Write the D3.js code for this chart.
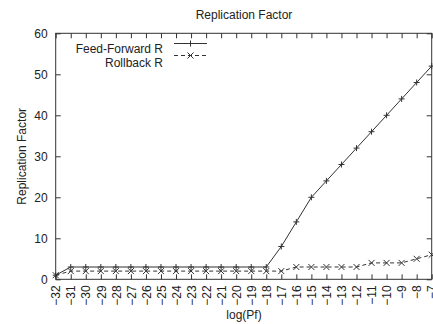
<!DOCTYPE html>
<html>
<head>
<meta charset="utf-8">
<script src="https://cdn.jsdelivr.net/npm/d3@7"></script>
<style>
  body { margin: 0; background: #fff; }
  text { font-family: "Liberation Sans", Arial, sans-serif; fill: #222; }
</style>
</head>
<body>
<svg id="chart" width="433" height="324"></svg>
<script>
// log(Pf) values on the x axis
const logPf = [-32, -31, -30, -29, -28, -27, -26, -25, -24, -23, -22, -21, -20, -19, -18, -17, -16, -15, -14, -13, -12, -11, -10, -9, -8, -7];
const feedForward = [1, 3, 3, 3, 3, 3, 3, 3, 3, 3, 3, 3, 3, 3, 3, 8, 14, 20, 24, 28, 32, 36, 40, 44, 48, 52];
const rollback = [1, 2, 2, 2, 2, 2, 2, 2, 2, 2, 2, 2, 2, 2, 2, 2, 3, 3, 3, 3, 3, 4, 4, 4, 5, 6];
const yTicks = [0, 10, 20, 30, 40, 50, 60];

const plotLeft = 55.7, plotRight = 431.7, plotTop = 33.3, plotBottom = 279.3;
const svg = d3.select("#chart");

const x = d3.scaleLinear().domain([-32, -7]).range([plotLeft, plotRight]);
const y = d3.scaleLinear().domain([0, 60]).range([plotBottom, plotTop]);
const ink = "#333";

// frame
svg.append("rect")
  .attr("x", plotLeft).attr("y", plotTop)
  .attr("width", plotRight - plotLeft).attr("height", plotBottom - plotTop)
  .attr("fill", "none").attr("stroke", ink).attr("stroke-width", 1);

// bottom axis with rotated labels
const xAxis = svg.append("g")
  .attr("transform", "translate(0," + plotBottom + ")")
  .call(d3.axisBottom(x).tickValues(logPf).tickFormat(d3.format("d")).tickSizeInner(-5).tickSizeOuter(0));
xAxis.select(".domain").remove();
xAxis.selectAll("line").attr("stroke", ink);
xAxis.selectAll("text")
  .attr("transform", "rotate(-90)")
  .attr("x", -6).attr("y", 0).attr("dy", "0.35em")
  .style("text-anchor", "end")
  .style("font-size", "12px")
  .style("font-family", "Liberation Sans, Arial, sans-serif")
  .attr("fill", "#222");

// mirrored top ticks
const xTop = svg.append("g")
  .attr("transform", "translate(0," + plotTop + ")")
  .call(d3.axisTop(x).tickValues(logPf).tickFormat("").tickSizeInner(-5).tickSizeOuter(0));
xTop.select(".domain").remove();
xTop.selectAll("line").attr("stroke", ink);

// left axis
const yAxis = svg.append("g")
  .attr("transform", "translate(" + plotLeft + ",0)")
  .call(d3.axisLeft(y).tickValues(yTicks).tickSizeInner(-5).tickSizeOuter(0).tickPadding(8));
yAxis.select(".domain").remove();
yAxis.selectAll("line").attr("stroke", ink);
yAxis.selectAll("text")
  .style("font-size", "12px")
  .style("font-family", "Liberation Sans, Arial, sans-serif")
  .attr("fill", "#222");

// right mirrored ticks
const yRight = svg.append("g")
  .attr("transform", "translate(" + plotRight + ",0)")
  .call(d3.axisRight(y).tickValues(yTicks).tickFormat("").tickSizeInner(-5).tickSizeOuter(0));
yRight.select(".domain").remove();
yRight.selectAll("line").attr("stroke", ink);

// titles
svg.append("text")
  .attr("x", 244).attr("y", 19)
  .attr("text-anchor", "middle").style("font-size", "12px")
  .text("Replication Factor");
svg.append("text")
  .attr("x", 244).attr("y", 319)
  .attr("text-anchor", "middle").style("font-size", "12px")
  .text("log(Pf)");
svg.append("text")
  .attr("transform", "translate(26," + ((plotTop + plotBottom) / 2) + ") rotate(-90)")
  .attr("text-anchor", "middle").style("font-size", "12px")
  .text("Replication Factor");

const line = d3.line().x((d, i) => x(logPf[i])).y(d => y(d));

function plus(g, s) {
  return "M" + (g[0] - s) + "," + g[1] + "H" + (g[0] + s) + "M" + g[0] + "," + (g[1] - s) + "V" + (g[1] + s);
}
function cross(g, s) {
  return "M" + (g[0] - s) + "," + (g[1] - s) + "L" + (g[0] + s) + "," + (g[1] + s) +
         "M" + (g[0] - s) + "," + (g[1] + s) + "L" + (g[0] + s) + "," + (g[1] - s);
}

// Feed-Forward series
svg.append("path")
  .attr("d", line(feedForward))
  .attr("fill", "none").attr("stroke", ink).attr("stroke-width", 1);
svg.append("g").selectAll("path")
  .data(feedForward).enter().append("path")
  .attr("d", (d, i) => plus([x(logPf[i]), y(d)], 3))
  .attr("stroke", ink).attr("fill", "none");

// Rollback series
svg.append("path")
  .attr("d", line(rollback))
  .attr("fill", "none").attr("stroke", ink).attr("stroke-width", 1)
  .attr("stroke-dasharray", "4,3");
svg.append("g").selectAll("path")
  .data(rollback).enter().append("path")
  .attr("d", (d, i) => cross([x(logPf[i]), y(d)], 3))
  .attr("stroke", ink).attr("fill", "none");

// legend
const legend = svg.append("g");
legend.append("text").attr("x", 163).attr("y", 53)
  .attr("text-anchor", "end").style("font-size", "12px").text("Feed-Forward R");
legend.append("path").attr("d", "M174,43.5H207").attr("stroke", ink);
legend.append("path").attr("d", plus([190.5, 43.5], 3)).attr("stroke", ink);
legend.append("text").attr("x", 163).attr("y", 67)
  .attr("text-anchor", "end").style("font-size", "12px").text("Rollback R");
legend.append("path").attr("d", "M174,55.5H207").attr("stroke", ink).attr("stroke-dasharray", "4,3");
legend.append("path").attr("d", cross([190.5, 55.5], 3)).attr("stroke", ink);
</script>
</body>
</html>
